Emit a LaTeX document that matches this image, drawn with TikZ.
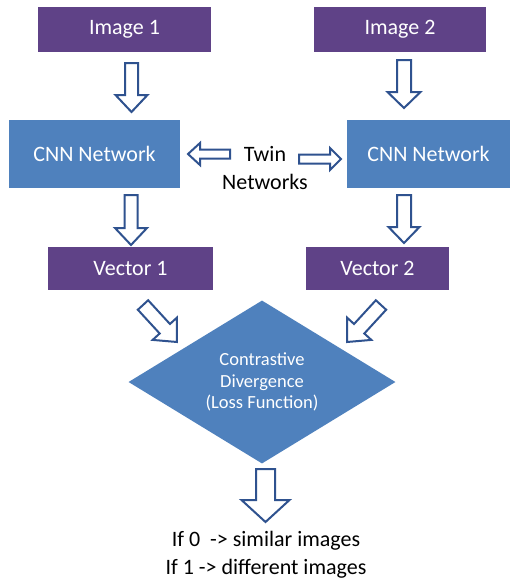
\documentclass[tikz,border=0pt]{standalone}
\usepackage{fontspec}
\setmainfont{Carlito}
\usetikzlibrary{shapes.geometric,calc}
\definecolor{boxpurple}{RGB}{95,66,135}
\definecolor{boxblue}{RGB}{79,129,189}
\definecolor{arrowblue}{RGB}{47,82,143}
\newcommand\blockarrow[5]{%
  \path let \p1=(#1), \p2=(#2),
    \n1={atan2(\y2-\y1,\x2-\x1)}, \n2={veclen(\x2-\x1,\y2-\y1)} in
    \pgfextra{\xdef\bang{\n1}\xdef\blen{\n2}};
  \draw[blockarr, shift={(#1)}, rotate=\bang]
    (0,#3) -- ({\blen-#5},#3) -- ({\blen-#5},#4) -- (\blen,0)
    -- ({\blen-#5},-#4) -- ({\blen-#5},-#3) -- (0,-#3) -- cycle;}
\begin{document}
\begin{tikzpicture}[x=1pt,y=-1pt,
  pbox/.style={fill=boxpurple, text=white, font=\fontsize{22}{26}\selectfont,
    inner sep=0, minimum height=45pt},
  bbox/.style={fill=boxblue, text=white, font=\fontsize{22}{26}\selectfont,
    inner sep=0, minimum height=68pt},
  blockarr/.style={draw=arrowblue, fill=white, line width=2pt, line join=miter},
  plain/.style={text=black, font=\fontsize{22}{28}\selectfont, align=center, inner sep=0}]
\useasboundingbox (0,0) rectangle (514,582);
\fill[white] (0,0) rectangle (514,582);

\node[pbox, minimum width=173pt] (img1) at (124.5,29.5) {Image 1};
\node[pbox, minimum width=172pt] (img2) at (400,29.5) {Image 2};
\node[bbox, minimum width=171pt] (cnn1) at (94.5,154) {CNN Network};
\node[bbox, minimum width=163pt] (cnn2) at (428.5,154) {CNN Network};
\node[pbox, minimum width=165pt, minimum height=43pt] (vec1) at (130.5,268.5) {Vector 1};
\node[pbox, minimum width=143pt, minimum height=43pt] (vec2) at (377.5,268.5) {Vector 2};
\node[diamond, fill=boxblue, text=white, aspect=1.64, inner sep=0,
  minimum width=267pt, minimum height=163pt, align=center,
  font=\fontsize{18.5}{21.5}\selectfont] (loss) at (262,382)
  {Contrastive\\Divergence\\(Loss Function)};
\node[plain] (twin) at (265,168) {Twin\\Networks};
\node[plain] (result) at (266,555) {If 0 \ -> similar images\\If 1 -> different images};

% arrow end points
\coordinate (a1s) at (131.5,63);  \coordinate (a1e) at (131.5,112);
\coordinate (a2s) at (404,60);    \coordinate (a2e) at (404,108);
\coordinate (a3s) at (131,195);   \coordinate (a3e) at (131,245);
\coordinate (a4s) at (404,195);   \coordinate (a4e) at (404,243);
\coordinate (tls) at (230,154);   \coordinate (tle) at (188,154);
\coordinate (trs) at (299,159);   \coordinate (tre) at (341,159);
\coordinate (d1s) at (143,305);   \coordinate (d1e) at (177,342);
\coordinate (d2s) at (381,305);   \coordinate (d2e) at (347,342);
\coordinate (a5s) at (265.5,469); \coordinate (a5e) at (265.5,522);

\blockarrow{a1s}{a1e}{6.5}{16}{17}
\blockarrow{a2s}{a2e}{7}{16.5}{16}
\blockarrow{a3s}{a3e}{6.5}{16}{17}
\blockarrow{a4s}{a4e}{7}{15.5}{16}
\blockarrow{tls}{tle}{4.5}{11}{12}
\blockarrow{trs}{tre}{4.5}{11}{11}
\blockarrow{d1s}{d1e}{7}{16.5}{18}
\blockarrow{d2s}{d2e}{7}{16.5}{18}
\blockarrow{a5s}{a5e}{9.5}{24}{22}
\end{tikzpicture}
\end{document}
